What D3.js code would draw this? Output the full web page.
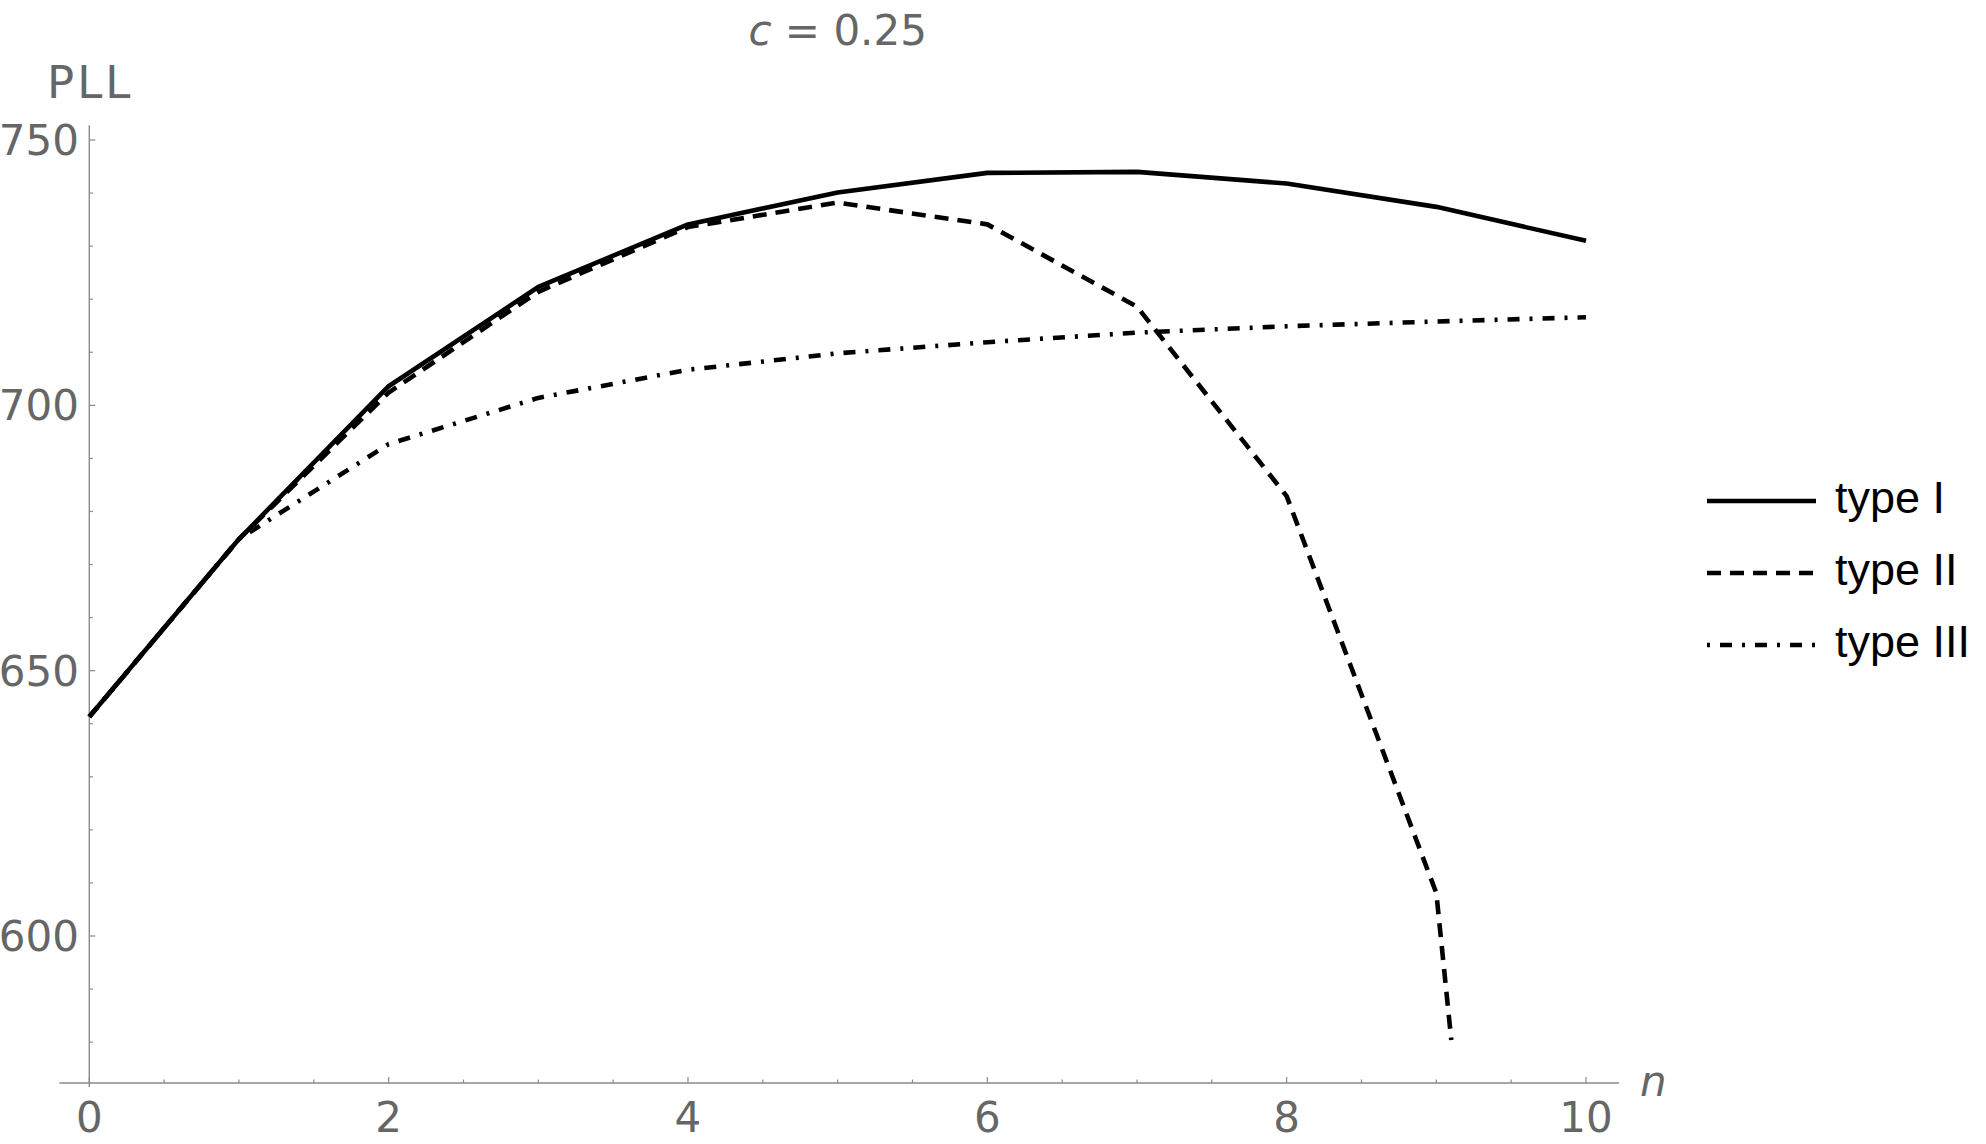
<!DOCTYPE html>
<html>
<head>
<meta charset="utf-8">
<script src="https://cdn.jsdelivr.net/npm/d3@7"></script>
<style>
  html, body { margin: 0; padding: 0; background: #fff; }
  svg { display: block; }
</style>
</head>
<body>
<svg id="chart" width="1986" height="1144"></svg>
<script>
// ---- data ----
const nTypeI   = [0, 1, 2, 3, 4, 5, 6, 7, 8, 9, 10];
const pllTypeI = [641.3, 674.8, 703.6, 722.3, 734.1, 740.1, 743.8, 744.0, 741.8, 737.4, 731.0];

const nTypeII   = [0, 1, 2, 3, 4, 5, 6, 7, 8, 9, 9.1];
const pllTypeII = [641.3, 674.8, 702.4, 721.4, 733.6, 738.2, 734.1, 718.6, 682.9, 608.1, 580.4];

const nTypeIII   = [0, 1, 2, 3, 4, 5, 6, 7, 8, 9, 10];
const pllTypeIII = [641.3, 674.8, 692.7, 701.4, 706.7, 709.8, 711.9, 713.7, 714.9, 715.8, 716.6];

const seriesNames = ["type I", "type II", "type III"];
const xTickValues = [0, 2, 4, 6, 8, 10];
const yTickValues = [600, 650, 700, 750];
const titleText = ["c", " = 0.25"];
const yAxisLabel = "PLL";
const xAxisLabel = "n";

// ---- layout ----
const svg = d3.select("#chart");
const x = d3.scaleLinear().domain([0, 10]).range([89.3, 1586]);
const y = d3.scaleLinear().domain([600, 750]).range([936, 140]);
const axisY = 1083;             // pixel row of the x axis
const axisGray = "#8a8a8a";
const labelGray = "#666666";
const labelFont = "'DejaVu Sans', sans-serif";

const series = [
  { name: seriesNames[0], xs: nTypeI,   ys: pllTypeI,   dash: null },
  { name: seriesNames[1], xs: nTypeII,  ys: pllTypeII,  dash: "14,9" },
  { name: seriesNames[2], xs: nTypeIII, ys: pllTypeIII, dash: "12,10,3,10" }
];

// ---- axes ----
const gAx = svg.append("g");
gAx.append("line")
  .attr("x1", x(-0.2)).attr("x2", x(10.22))
  .attr("y1", axisY).attr("y2", axisY)
  .attr("stroke", axisGray).attr("stroke-width", 1.4);
gAx.append("line")
  .attr("x1", x(0)).attr("x2", x(0))
  .attr("y1", y(752.8)).attr("y2", axisY + 4)
  .attr("stroke", axisGray).attr("stroke-width", 1.4);

// x ticks (inward = upward)
const xMinor = d3.range(0, 10.01, 0.5);
gAx.selectAll(".xt").data(xMinor).join("line")
  .attr("x1", d => x(d)).attr("x2", d => x(d))
  .attr("y1", axisY)
  .attr("y2", d => axisY - (Math.abs(d % 2) < 1e-9 ? 6 : 3.5))
  .attr("stroke", axisGray).attr("stroke-width", 1.2);
gAx.selectAll(".xl").data(xTickValues).join("text")
  .attr("x", d => x(d)).attr("y", 1132)
  .attr("text-anchor", "middle")
  .attr("font-family", labelFont).attr("font-size", 42)
  .attr("fill", labelGray)
  .text(d => d);

// y ticks (inward = rightward)
const yMinor = d3.range(580, 751, 10);
gAx.selectAll(".yt").data(yMinor).join("line")
  .attr("x1", x(0)).attr("y1", d => y(d)).attr("y2", d => y(d))
  .attr("x2", d => x(0) + (d % 50 === 0 ? 6 : 3.5))
  .attr("stroke", axisGray).attr("stroke-width", 1.2);
gAx.selectAll(".yl").data(yTickValues).join("text")
  .attr("x", 79).attr("y", d => y(d) + 15)
  .attr("text-anchor", "end")
  .attr("font-family", labelFont).attr("font-size", 42)
  .attr("fill", labelGray)
  .text(d => d);

// axis labels
svg.append("text")
  .attr("x", 47).attr("y", 98)
  .attr("font-family", labelFont).attr("font-size", 45)
  .attr("letter-spacing", 3)
  .attr("fill", labelGray)
  .text(yAxisLabel);
svg.append("text")
  .attr("x", 1640).attr("y", 1096)
  .attr("font-family", labelFont).attr("font-size", 42)
  .attr("font-style", "italic")
  .attr("fill", labelGray)
  .text(xAxisLabel);

// title
const title = svg.append("text")
  .attr("x", (x(0) + x(10)) / 2).attr("y", 45)
  .attr("text-anchor", "middle")
  .attr("font-family", labelFont).attr("font-size", 42)
  .attr("fill", labelGray);
title.append("tspan").attr("font-style", "italic").text(titleText[0]);
title.append("tspan").text(titleText[1]);

// ---- lines ----
const line = d3.line().x(d => x(d[0])).y(d => y(d[1]));
const gLines = svg.append("g");
series.slice().reverse().forEach(s => {
  const pts = s.xs.map((v, i) => [v, s.ys[i]]);
  gLines.append("path")
    .attr("d", line(pts))
    .attr("fill", "none")
    .attr("stroke", "#000")
    .attr("stroke-width", 4.6)
    .attr("stroke-linejoin", "round")
    .attr("stroke-dasharray", s.dash);
});

// ---- legend ----
const legend = svg.append("g");
const legendRowY = [501, 573, 645];
series.forEach((s, i) => {
  legend.append("line")
    .attr("x1", 1707).attr("x2", 1816)
    .attr("y1", legendRowY[i]).attr("y2", legendRowY[i])
    .attr("stroke", "#000").attr("stroke-width", 4.6)
    .attr("stroke-dasharray", s.dash)
    .attr("stroke-dashoffset", i === 2 ? 22 : 0);
  legend.append("text")
    .attr("x", 1835).attr("y", legendRowY[i] + 12)
    .attr("font-family", "'Liberation Sans', Arial, sans-serif")
    .attr("font-size", 45)
    .attr("fill", "#000")
    .text(s.name);
});
</script>
</body>
</html>
